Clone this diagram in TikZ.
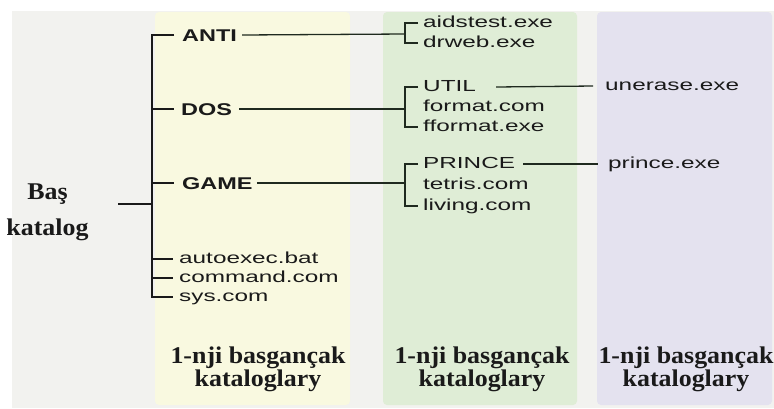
\documentclass[tikz,border=0pt]{standalone}
\usepackage{fontspec}
\newfontfamily\sansR[FakeStretch=1.52]{Liberation Sans}
\newfontfamily\sansB[FakeStretch=1.38]{Liberation Sans}
\newfontfamily\serifB[FakeStretch=1.08]{Liberation Serif}
\definecolor{bgc}{HTML}{F2F2EF}
\definecolor{yelc}{HTML}{F9F9E0}
\definecolor{grnc}{HTML}{DFEDD6}
\definecolor{purc}{HTML}{E4E2EF}
\definecolor{ink}{HTML}{1A1A1A}
\definecolor{lnc}{HTML}{1F2A1F}
\tikzset{
  fname/.style={anchor=west, inner sep=0pt, text height=9pt, text depth=0pt, text=ink, font=\sansR\fontsize{16}{18}\selectfont},
  dname/.style={anchor=west, inner sep=0pt, text height=12pt, text depth=0pt, text=ink, font=\sansB\bfseries\fontsize{17}{19}\selectfont},
  captext/.style={anchor=base, inner sep=0pt, text=ink, font=\serifB\bfseries\fontsize{24}{23}\selectfont, align=center},
  tree/.style={draw=ink, line width=1.7pt},
  link/.style={draw=lnc, line width=1.3pt},
  panel/.style={rounded corners=4pt}
}
\begin{document}
\begin{tikzpicture}[x=1pt,y=-1pt]
\useasboundingbox (0,0) rectangle (774,408);
\fill[white] (0,0) rectangle (774,408);
\fill[bgc] (12,11) rectangle (774,408);
\fill[yelc, panel] (155,12) rectangle (350,405);
\fill[grnc, panel] (383,12) rectangle (577,405);
\fill[purc, panel] (597,12) rectangle (772,405);

% root
\node[captext] (bas) at (47.5,199) {Baş};
\node[captext] (katalog) at (47.5,235) {katalog};
\coordinate (rootend) at (118,204);
\coordinate (spine) at (152,204);

% first level
\node[dname] (anti) at (182,35) {ANTI};
\node[dname] (dos) at (181,109) {DOS};
\node[dname] (game) at (182,183) {GAME};
\node[fname] (autoexec) at (179,259) {autoexec.bat};
\node[fname] (command) at (179,278) {command.com};
\node[fname] (sys) at (179,297) {sys.com};

\draw[tree] (rootend) -- (spine);
\draw[tree] ([xshift=-8pt]anti.west) -- (152,35) -- (152,297) -- ([xshift=-6pt]sys.west);
\draw[tree] (152,109) -- ([xshift=-7pt]dos.west);
\draw[tree] (152,183) -- ([xshift=-8pt]game.west);
\draw[tree] (152,259) -- ([xshift=-6pt]autoexec.west);
\draw[tree] (152,278) -- ([xshift=-6pt]command.west);

% second level
\node[fname] (aids) at (423,23) {aidstest.exe};
\node[fname] (drweb) at (423,43) {drweb.exe};
\node[fname] (util) at (423,87) {UTIL};
\node[fname] (format) at (423,107) {format.com};
\node[fname] (fformat) at (423,127) {fformat.exe};
\node[fname] (prince) at (423,164) {PRINCE};
\node[fname] (tetris) at (423,185) {tetris.com};
\node[fname] (living) at (423,206) {living.com};

\coordinate (b1) at (405,34);
\coordinate (b2) at (405,109);
\coordinate (b3) at (405,183);
\draw[link] ([xshift=5pt]anti.east) -- (b1);
\draw[link] ([xshift=7pt]dos.east) -- (b2);
\draw[link] ([xshift=4pt]game.east) -- (b3);
\draw[link] ([xshift=-5pt]aids.west) -- (405,23) -- (405,43) -- ([xshift=-5pt]drweb.west);
\draw[link] ([xshift=-5pt]util.west) -- (405,87) -- (405,127) -- ([xshift=-5pt]fformat.west);
\draw[link] ([xshift=-5pt]prince.west) -- (405,164) -- (405,206) -- ([xshift=-5pt]living.west);

% third level
\node[fname] (unerase) at (605,86) {unerase.exe};
\node[fname] (princeexe) at (608,164) {prince.exe};
\draw[link] ([xshift=20pt]util.east) -- ([xshift=-12pt]unerase.west);
\draw[link] ([xshift=8pt]prince.east) -- ([xshift=-10pt]princeexe.west);

% captions (base = last line's baseline)
\node[captext] (c1) at (258,386) {1-nji basgançak\\kataloglary};
\node[captext] (c2) at (482,386) {1-nji basgançak\\kataloglary};
\node[captext] (c3) at (686,386) {1-nji basgançak\\kataloglary};
\end{tikzpicture}
\end{document}
